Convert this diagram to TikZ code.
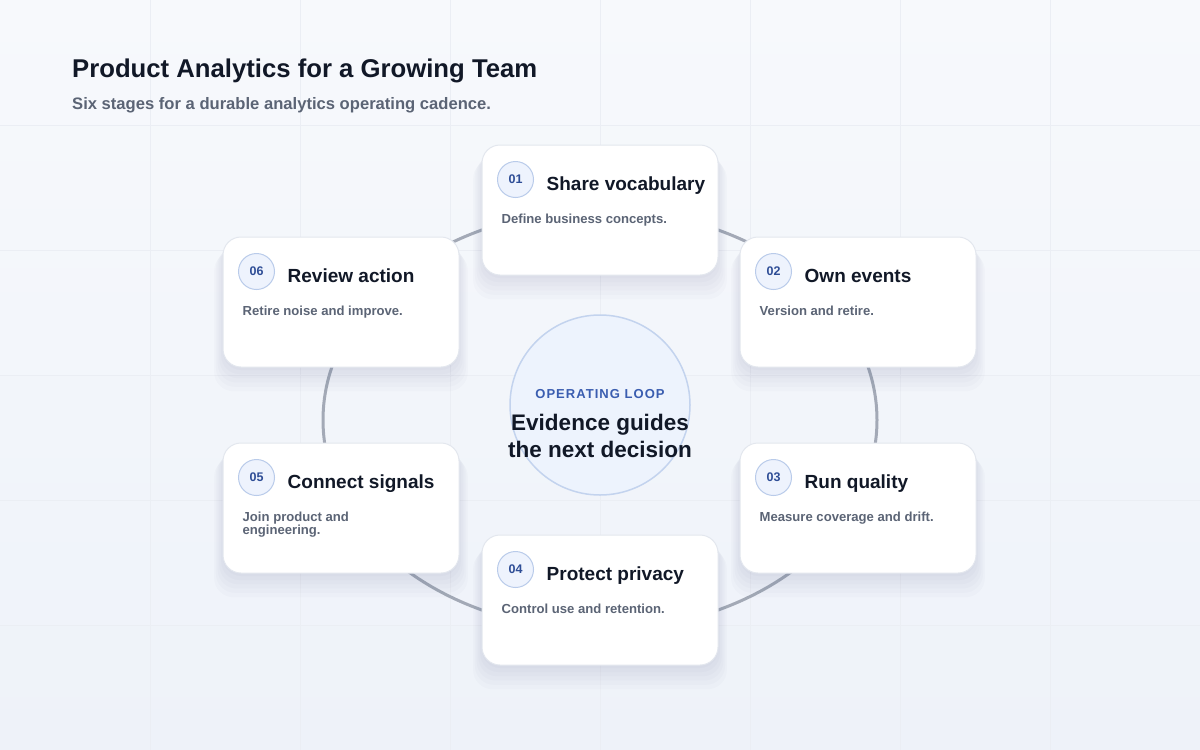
\documentclass[tikz,border=0pt]{standalone}
\usepackage{fontspec}
\setmainfont{Liberation Sans}
\newfontfamily\loopfont[LetterSpace=8]{Liberation Sans}
\usetikzlibrary{shadows}

\definecolor{ink}{HTML}{111827}
\definecolor{slate}{HTML}{5B6475}
\definecolor{ringgray}{HTML}{A3A9B6}
\definecolor{cardline}{HTML}{E3E7EE}
\definecolor{shadowtint}{HTML}{4A5A8A}
\definecolor{badgefill}{HTML}{EEF3FD}
\definecolor{badgeline}{HTML}{B9CBEA}
\definecolor{badgetext}{HTML}{2E4D96}
\definecolor{loopblue}{HTML}{3A5DB0}
\definecolor{hubfill}{HTML}{EDF3FD}
\definecolor{hubline}{HTML}{C3D3EE}
\definecolor{gridline}{HTML}{EBEEF4}
\definecolor{bgtop}{HTML}{F7F9FC}
\definecolor{bgbottom}{HTML}{EEF2F9}

\tikzset{
  softshade/.style 2 args={general shadow={fill=shadowtint, opacity=.022,
    shadow scale=#1, shadow yshift=#2}},
  card/.style={rectangle, minimum width=236pt, minimum height=130pt,
    rounded corners=18pt, fill=white, draw=cardline, line width=1pt,
    softshade={1.075}{-18pt}, softshade={1.06}{-15pt}, softshade={1.045}{-12pt},
    softshade={1.03}{-9pt}, softshade={1.015}{-6pt}, softshade={1.0}{-3pt}},
  badge/.style={circle, minimum size=36pt, inner sep=0pt, fill=badgefill,
    draw=badgeline, line width=1pt, text=badgetext, font=\fontsize{12.5}{12.5}\selectfont\bfseries},
  cardtitle/.style={anchor=base west, inner sep=0pt, text=ink,
    font=\fontsize{19}{23}\selectfont\bfseries},
  carddesc/.style={anchor=base west, inner sep=0pt, text=slate,
    font=\fontsize{13.1}{13}\selectfont\bfseries}
}

% one stage card: name, centre, number, title, text
\newcommand{\stagecard}[5]{%
  \node[card] (#1) at (#2) {};
  \node[badge] (#1n) at ([shift={(34,35)}]#1.north west) {#3};
  \node[cardtitle] (#1t) at ([shift={(65,46)}]#1.north west) {#4};
  \node[carddesc] (#1d) at ([shift={(20,79)}]#1.north west) {\parbox[t]{200pt}{\raggedright #5}};
}

\begin{document}
\begin{tikzpicture}[x=1pt, y=-1pt]
  % background and grid
  \shade[top color=bgtop, bottom color=bgbottom] (0,0) rectangle (1200,750);
  \useasboundingbox (0,0) rectangle (1200,750);
  \foreach \gx in {150,300,...,1050}
    \draw[gridline, line width=1pt] (\gx,0) -- (\gx,750);
  \foreach \gy in {125,250,...,625}
    \draw[gridline, line width=1pt] (0,\gy) -- (1200,\gy);

  % heading
  \node[anchor=base west, inner sep=0pt, text=ink, font=\fontsize{25.7}{30}\selectfont\bfseries]
    (title) at (72,77) {Product Analytics for a Growing Team};
  \node[anchor=base west, inner sep=0pt, text=slate, font=\fontsize{16.6}{20}\selectfont\bfseries]
    (subtitle) at (72,109) {Six stages for a durable analytics operating cadence.};

  % loop
  \draw[ringgray, line width=3pt] (600,420) ellipse [x radius=277, y radius=210];

  % hub
  \node[circle, minimum size=180pt, fill=hubfill, draw=hubline, line width=1.5pt] (hub) at (600,405) {};
  \node[anchor=base, inner sep=0pt, text=loopblue, font=\fontsize{13}{13}\loopfont\bfseries]
    (hubtag) at (600,398) {OPERATING LOOP};
  \node[anchor=base, inner sep=0pt, text=ink, font=\fontsize{22.5}{27}\selectfont\bfseries]
    (hubline1) at (600,430) {Evidence guides};
  \node[anchor=base, inner sep=0pt, text=ink, font=\fontsize{22.5}{27}\selectfont\bfseries]
    (hubline2) at (600,457) {the next decision};

  % stages
  \stagecard{s1}{600,210}{01}{Share vocabulary}{Define business concepts.}
  \stagecard{s2}{858,302}{02}{Own events}{Version and retire.}
  \stagecard{s3}{858,508}{03}{Run quality}{Measure coverage and drift.}
  \stagecard{s4}{600,600}{04}{Protect privacy}{Control use and retention.}
  \stagecard{s5}{341,508}{05}{Connect signals}{Join product and\\engineering.}
  \stagecard{s6}{341,302}{06}{Review action}{Retire noise and improve.}
\end{tikzpicture}
\end{document}
